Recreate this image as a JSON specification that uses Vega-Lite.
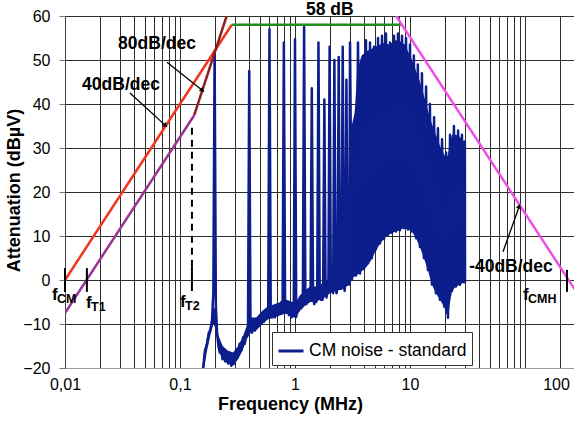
{
  "$schema": "https://vega.github.io/schema/vega-lite/v6.json",
  "width": 509,
  "height": 352,
  "autosize": {"type": "none"},
  "padding": {"left": 65, "top": 16, "right": 0, "bottom": 53},
  "background": "white",
  "config": {
    "font": "Liberation Sans",
    "view": {"stroke": "#9a9a9a", "strokeWidth": 1},
    "axis": {
      "labelFont": "Liberation Sans",
      "labelFontSize": 16,
      "labelColor": "#000",
      "titleFont": "Liberation Sans",
      "titleFontSize": 18,
      "titleFontWeight": "bold",
      "titleColor": "#000",
      "gridColor": "#2e2e2e",
      "gridOpacity": 1,
      "gridWidth": 1
    }
  },
  "datasets": {
    "noiseband": [
      {"f": 0.160, "lo": -21, "hi": -17}, {"f": 0.172, "lo": -16, "hi": -13}, {"f": 0.184, "lo": -12.5, "hi": -10},
      {"f": 0.195, "lo": -10, "hi": -6}, {"f": 0.205, "lo": -11, "hi": -7}, {"f": 0.215, "lo": -16, "hi": -12.5},
      {"f": 0.235, "lo": -18, "hi": -15}, {"f": 0.26, "lo": -19, "hi": -16}, {"f": 0.29, "lo": -19.5, "hi": -16.5},
      {"f": 0.32, "lo": -18, "hi": -15}, {"f": 0.35, "lo": -16, "hi": -13}, {"f": 0.38, "lo": -13.5, "hi": -10.5},
      {"f": 0.41, "lo": -12, "hi": -8.5}, {"f": 0.46, "lo": -11.5, "hi": -8.5}, {"f": 0.52, "lo": -10, "hi": -7},
      {"f": 0.58, "lo": -9, "hi": -6}, {"f": 0.66, "lo": -8.5, "hi": -5.5}, {"f": 0.75, "lo": -8, "hi": -5},
      {"f": 0.85, "lo": -7.5, "hi": -4.5}, {"f": 0.95, "lo": -8.5, "hi": -5}, {"f": 1.02, "lo": -8.5, "hi": -5},
      {"f": 1.1, "lo": -7, "hi": -3.5}, {"f": 1.2, "lo": -6, "hi": -2.5}, {"f": 1.35, "lo": -5, "hi": -1.5},
      {"f": 1.5, "lo": -5, "hi": -1.5}, {"f": 1.65, "lo": -4.5, "hi": -1}, {"f": 1.8, "lo": -4, "hi": -0.5},
      {"f": 2.0, "lo": -3, "hi": 0.5}, {"f": 2.3, "lo": -2.5, "hi": 1}, {"f": 2.6, "lo": -2, "hi": 1.5},
      {"f": 2.98, "lo": -1, "hi": 2.5},
      {"f": 3.0, "lo": 0, "hi": 33}, {"f": 3.3, "lo": 0.8, "hi": 38}, {"f": 3.5, "lo": 1.2, "hi": 48},
      {"f": 3.8, "lo": 2, "hi": 51}, {"f": 4.2, "lo": 3, "hi": 52}, {"f": 4.6, "lo": 4.5, "hi": 52.5},
      {"f": 5.0, "lo": 6.5, "hi": 53}, {"f": 5.5, "lo": 8.3, "hi": 53.5}, {"f": 6.0, "lo": 9.5, "hi": 54},
      {"f": 6.5, "lo": 10.3, "hi": 53.5}, {"f": 7.0, "lo": 10.7, "hi": 54}, {"f": 7.5, "lo": 11, "hi": 54.5},
      {"f": 8.0, "lo": 11.2, "hi": 54.5}, {"f": 8.5, "lo": 11.6, "hi": 54}, {"f": 9.0, "lo": 11.7, "hi": 53.5},
      {"f": 9.6, "lo": 11.5, "hi": 52}, {"f": 10.4, "lo": 11, "hi": 50}, {"f": 11.3, "lo": 9.5, "hi": 47.5},
      {"f": 12.2, "lo": 7.5, "hi": 45}, {"f": 13.2, "lo": 5, "hi": 42}, {"f": 14.3, "lo": 2.3, "hi": 38.5},
      {"f": 15.5, "lo": -1, "hi": 35.5}, {"f": 16.8, "lo": -3, "hi": 33}, {"f": 18.2, "lo": -4.5, "hi": 30.5},
      {"f": 19.8, "lo": -6, "hi": 28.5}, {"f": 20.6, "lo": -7.5, "hi": 27.5}, {"f": 21.4, "lo": -8.6, "hi": 28.5},
      {"f": 22.3, "lo": -5, "hi": 31.5}, {"f": 23.2, "lo": -2.5, "hi": 33}, {"f": 25.1, "lo": -1.5, "hi": 33},
      {"f": 27.2, "lo": -1.1, "hi": 32.5}, {"f": 29.5, "lo": -0.5, "hi": 31.5}, {"f": 30.05, "lo": -0.5, "hi": 31}
    ],
    "spectrum": [
      {"f": 0.150, "db": -26}, {"f": 0.158, "db": -20.5}, {"f": 0.165, "db": -16}, {"f": 0.172, "db": -14.5},
      {"f": 0.178, "db": -12}, {"f": 0.184, "db": -11.5}, {"f": 0.190, "db": -9}, {"f": 0.195, "db": -3},
      {"f": 0.200, "db": 52}, {"f": 0.205, "db": -6}, {"f": 0.210, "db": -12}, {"f": 0.216, "db": -15},
      {"f": 0.222, "db": -16.5}, {"f": 0.228, "db": -15}, {"f": 0.234, "db": -18}, {"f": 0.240, "db": -16},
      {"f": 0.247, "db": -18.5}, {"f": 0.254, "db": -16.5}, {"f": 0.262, "db": -19}, {"f": 0.270, "db": -17},
      {"f": 0.279, "db": -19.5}, {"f": 0.288, "db": -17.5}, {"f": 0.297, "db": -19}, {"f": 0.307, "db": -16.5},
      {"f": 0.318, "db": -17.5}, {"f": 0.330, "db": -14.5}, {"f": 0.342, "db": -16}, {"f": 0.354, "db": -13},
      {"f": 0.366, "db": -14.5}, {"f": 0.378, "db": -11.5}, {"f": 0.390, "db": -12.5}, {"f": 0.400, "db": 47.5},
      {"f": 0.410, "db": -9.5}, {"f": 0.422, "db": -12}, {"f": 0.435, "db": -10}, {"f": 0.448, "db": -11.5},
      {"f": 0.462, "db": -9}, {"f": 0.476, "db": -10.5}, {"f": 0.490, "db": -8.5}, {"f": 0.505, "db": -10},
      {"f": 0.520, "db": -7.5}, {"f": 0.536, "db": -9.5}, {"f": 0.552, "db": -7}, {"f": 0.568, "db": -8.5},
      {"f": 0.585, "db": -6}, {"f": 0.600, "db": 57}, {"f": 0.615, "db": -6.5}, {"f": 0.632, "db": -8.5},
      {"f": 0.650, "db": -6}, {"f": 0.668, "db": -8.5}, {"f": 0.687, "db": -6.5}, {"f": 0.706, "db": -8},
      {"f": 0.725, "db": -5.5}, {"f": 0.745, "db": -7.5}, {"f": 0.762, "db": -5}, {"f": 0.780, "db": -6.5},
      {"f": 0.800, "db": 54}, {"f": 0.820, "db": -5}, {"f": 0.842, "db": -7.5}, {"f": 0.864, "db": -5.5},
      {"f": 0.886, "db": -8}, {"f": 0.908, "db": -6}, {"f": 0.930, "db": -8.5}, {"f": 0.952, "db": -6.5},
      {"f": 0.975, "db": -8}, {"f": 1.000, "db": 54.7}, {"f": 1.025, "db": -8.4}, {"f": 1.050, "db": -5},
      {"f": 1.076, "db": -7}, {"f": 1.102, "db": -4.5}, {"f": 1.128, "db": -6.5}, {"f": 1.150, "db": -4},
      {"f": 1.170, "db": -6}, {"f": 1.200, "db": 57.5}, {"f": 1.230, "db": -3}, {"f": 1.256, "db": -5.5},
      {"f": 1.282, "db": -2.5}, {"f": 1.310, "db": -5}, {"f": 1.338, "db": -2.5}, {"f": 1.365, "db": -4.5},
      {"f": 1.400, "db": 43.6}, {"f": 1.435, "db": -3}, {"f": 1.468, "db": -5.5}, {"f": 1.500, "db": -3},
      {"f": 1.530, "db": -5}, {"f": 1.560, "db": -3.5}, {"f": 1.600, "db": 54}, {"f": 1.640, "db": -2},
      {"f": 1.675, "db": -4.5}, {"f": 1.710, "db": -2.5}, {"f": 1.735, "db": -4.5}, {"f": 1.755, "db": -3.5},
      {"f": 1.800, "db": 41}, {"f": 1.845, "db": -2.5}, {"f": 1.880, "db": -4}, {"f": 1.915, "db": -1.5},
      {"f": 1.950, "db": -3}, {"f": 2.000, "db": 53}, {"f": 2.050, "db": -2.5}, {"f": 2.100, "db": -0.5},
      {"f": 2.145, "db": -3}, {"f": 2.200, "db": 50}, {"f": 2.255, "db": -1.5}, {"f": 2.300, "db": -3},
      {"f": 2.340, "db": -1}, {"f": 2.400, "db": 50.7}, {"f": 2.460, "db": -2}, {"f": 2.500, "db": -0.5},
      {"f": 2.535, "db": -2}, {"f": 2.600, "db": 53}, {"f": 2.665, "db": -1}, {"f": 2.700, "db": -2.5},
      {"f": 2.730, "db": -1}, {"f": 2.800, "db": 45.5}, {"f": 2.870, "db": -1}, {"f": 2.930, "db": 0.5},
      {"f": 2.965, "db": -1},
      {"f": 3.01, "db": 54}, {"f": 3.13, "db": 0}, {"f": 3.26, "db": 36}, {"f": 3.39, "db": 1},
      {"f": 3.53, "db": 54}, {"f": 3.68, "db": 1.5}, {"f": 3.83, "db": 50}, {"f": 3.98, "db": 2.5},
      {"f": 4.14, "db": 54.5}, {"f": 4.31, "db": 3.8}, {"f": 4.49, "db": 54}, {"f": 4.67, "db": 5},
      {"f": 4.86, "db": 53}, {"f": 5.06, "db": 7}, {"f": 5.27, "db": 55}, {"f": 5.48, "db": 8.3},
      {"f": 5.71, "db": 55.5}, {"f": 5.94, "db": 9.3}, {"f": 6.18, "db": 56}, {"f": 6.44, "db": 10.3},
      {"f": 6.70, "db": 54}, {"f": 6.97, "db": 10.7}, {"f": 7.26, "db": 55.5}, {"f": 7.55, "db": 11},
      {"f": 7.86, "db": 56}, {"f": 8.18, "db": 11.3}, {"f": 8.52, "db": 55.5}, {"f": 8.87, "db": 11.8},
      {"f": 9.23, "db": 55}, {"f": 9.61, "db": 11.5}, {"f": 10.0, "db": 53.5}, {"f": 10.4, "db": 11},
      {"f": 10.8, "db": 51}, {"f": 11.3, "db": 9.5}, {"f": 11.7, "db": 49}, {"f": 12.2, "db": 7.5},
      {"f": 12.7, "db": 47}, {"f": 13.2, "db": 5}, {"f": 13.8, "db": 44}, {"f": 14.3, "db": 2.3},
      {"f": 14.9, "db": 40}, {"f": 15.5, "db": -1}, {"f": 16.2, "db": 37}, {"f": 16.8, "db": -3},
      {"f": 17.5, "db": 34.5}, {"f": 18.2, "db": -4.5}, {"f": 19.0, "db": 32}, {"f": 19.8, "db": -6},
      {"f": 20.6, "db": 29}, {"f": 21.4, "db": -8.6}, {"f": 22.3, "db": 33}, {"f": 23.2, "db": -2.5},
      {"f": 24.1, "db": 35}, {"f": 25.1, "db": -1.5}, {"f": 26.2, "db": 34}, {"f": 27.2, "db": -1.1},
      {"f": 28.3, "db": 33}, {"f": 29.5, "db": -0.5}, {"f": 30.0, "db": 31.5}, {"f": 30.1, "db": -0.5}
    ],
    "asymptotes": [
      {"seg": "40 dB/dec", "f": 0.01, "db": 0},
      {"seg": "40 dB/dec", "f": 0.2818, "db": 58},
      {"seg": "plateau", "f": 0.2818, "db": 58},
      {"seg": "plateau", "f": 8.5, "db": 58},
      {"seg": "-40 dB/dec", "f": 7.58, "db": 60},
      {"seg": "-40 dB/dec", "f": 300, "db": -3.9},
      {"seg": "40 dB/dec low", "f": 0.01, "db": -7.5},
      {"seg": "40 dB/dec low", "f": 0.133, "db": 37.45},
      {"seg": "80 dB/dec", "f": 0.133, "db": 37.45},
      {"seg": "80 dB/dec", "f": 0.2544, "db": 60}
    ],
    "corners": [
      {"f": 0.01, "lo": -2.7, "hi": 2.7},
      {"f": 0.0155, "lo": -2.7, "hi": 2.7},
      {"f": 0.127, "lo": -2.5, "hi": 3},
      {"f": 232, "lo": -2.7, "hi": 2.3}
    ],
    "ft2": [
      {"f": 0.127, "lo": 3, "hi": 35}
    ],
    "arrows": [
      {"id": "a1", "f1": 0.0367, "d1": 42.5, "f2": 0.0741, "d2": 35.2},
      {"id": "a2", "f1": 0.0771, "d1": 49.5, "f2": 0.155, "d2": 43.2},
      {"id": "a3", "f1": 64.4, "d1": 6.4, "f2": 88.7, "d2": 16.6}
    ],
    "notes": [
      {"t": "40dB/dec", "f": 0.0307, "db": 44.3},
      {"t": "80dB/dec", "f": 0.0631, "db": 53.6},
      {"t": "58 dB", "f": 2.01, "db": 61.36},
      {"t": "-40dB/dec", "f": 75.5, "db": 2.95}
    ],
    "freqs": [
      {"sub": "CM", "f": 0.0077, "db": -4.55},
      {"sub": "T1", "f": 0.01524, "db": -6.36},
      {"sub": "T2", "f": 0.1, "db": -6.14},
      {"sub": "CMH", "f": 96.2, "db": -4.55}
    ]
  },
  "layer": [
    {
      "data": {"name": "noiseband"},
      "mark": {"type": "area", "color": "#0c1d8c", "opacity": 1, "clip": true},
      "encoding": {
        "x": {"field": "f", "type": "quantitative", "scale": {"type": "log", "domain": [0.01, 266.8], "nice": false}},
        "y": {"field": "lo", "type": "quantitative", "scale": {"domain": [-20, 60], "nice": false}},
        "y2": {"field": "hi"}
      }
    },
    {
      "data": {"name": "spectrum"},
      "mark": {"type": "line", "strokeWidth": 2.5, "strokeJoin": "round", "clip": true},
      "encoding": {
        "x": {
          "field": "f", "type": "quantitative",
          "scale": {"type": "log", "domain": [0.01, 266.8], "nice": false},
          "axis": {
            "title": "Frequency (MHz)",
            "titleX": 225, "titleY": 41, "titleBaseline": "alphabetic", "titleAlign": "center",
            "values": [0.01, 0.02, 0.03, 0.04, 0.05, 0.06, 0.07, 0.08, 0.09, 0.1, 0.2, 0.3, 0.4, 0.5, 0.6, 0.7, 0.8, 0.9, 1, 2, 3, 4, 5, 6, 7, 8, 9, 10, 20, 30, 40, 50, 60, 70, 80, 90, 100, 200],
            "labelExpr": "datum.value == 0.01 || datum.value == 0.1 || datum.value == 1 || datum.value == 10 || datum.value == 100 ? replace(datum.value + '', '.', ',') : ''",
            "labelOverlap": false,
            "labelFlush": false,
            "labelPadding": 8,
            "labelOffset": {"condition": {"test": "datum.value == 100", "value": 31}, "value": 0},
            "ticks": false,
            "grid": true,
            "domainColor": "#9a9a9a"
          }
        },
        "y": {
          "field": "db", "type": "quantitative",
          "scale": {"domain": [-20, 60], "nice": false},
          "axis": {
            "title": "Attenuation (dBµV)",
            "titleX": -51, "titleY": 174, "titleAngle": -90, "titleAlign": "center", "titleBaseline": "middle",
            "values": [-20, -10, 0, 10, 20, 30, 40, 50, 60],
            "tickSize": 6,
            "tickColor": "#777",
            "labelPadding": 9,
            "grid": true,
            "domainColor": "#444"
          }
        },
        "color": {
          "datum": "CM noise - standard",
          "scale": {"range": ["#0c1d8c"]},
          "legend": {
            "title": null,
            "orient": "none",
            "legendX": 207,
            "legendY": 316,
            "symbolType": "stroke",
            "symbolSize": 625,
            "symbolStrokeWidth": 3,
            "labelFont": "Liberation Sans",
            "labelFontSize": 17.5,
            "labelColor": "#000",
            "labelLimit": 400,
            "labelOffset": 4,
            "padding": 5,
            "strokeColor": "#333",
            "fillColor": "#fff",
            "cornerRadius": 0
          }
        }
      }
    },
    {
      "data": {"name": "asymptotes"},
      "mark": {"type": "line", "strokeWidth": 2.5, "clip": true},
      "encoding": {
        "x": {"field": "f", "type": "quantitative", "scale": {"type": "log", "domain": [0.01, 266.8], "nice": false}},
        "y": {"field": "db", "type": "quantitative", "scale": {"domain": [-20, 60], "nice": false}},
        "color": {
          "field": "seg", "type": "nominal",
          "scale": {
            "domain": ["40 dB/dec", "40 dB/dec low", "80 dB/dec", "plateau", "-40 dB/dec"],
            "range": ["#f2341d", "#993399", "#8e1f1f", "#1f8f1f", "#ee4fe6"]
          },
          "legend": null
        }
      }
    },
    {
      "data": {"name": "ft2"},
      "mark": {"type": "rule", "color": "#000", "strokeWidth": 2, "strokeDash": [7, 5]},
      "encoding": {
        "x": {"field": "f", "type": "quantitative", "scale": {"type": "log", "domain": [0.01, 266.8], "nice": false}},
        "y": {"field": "lo", "type": "quantitative", "scale": {"domain": [-20, 60], "nice": false}},
        "y2": {"field": "hi"}
      }
    },
    {
      "data": {"name": "corners"},
      "mark": {"type": "rule", "color": "#000", "strokeWidth": 2},
      "encoding": {
        "x": {"field": "f", "type": "quantitative", "scale": {"type": "log", "domain": [0.01, 266.8], "nice": false}},
        "y": {"field": "lo", "type": "quantitative", "scale": {"domain": [-20, 60], "nice": false}},
        "y2": {"field": "hi"}
      }
    },
    {
      "data": {"name": "arrows"},
      "mark": {"type": "rule", "color": "#000", "strokeWidth": 1.3},
      "encoding": {
        "x": {"field": "f1", "type": "quantitative", "scale": {"type": "log", "domain": [0.01, 266.8], "nice": false}},
        "y": {"field": "d1", "type": "quantitative", "scale": {"domain": [-20, 60], "nice": false}},
        "x2": {"field": "f2"},
        "y2": {"field": "d2"}
      }
    },
    {
      "data": {"name": "arrows"},
      "transform": [{"filter": "datum.id != 'a3'"}],
      "mark": {"type": "point", "shape": "triangle", "filled": true, "color": "#000", "size": 30, "angle": 129, "opacity": 1},
      "encoding": {
        "x": {"field": "f2", "type": "quantitative", "scale": {"type": "log", "domain": [0.01, 266.8], "nice": false}},
        "y": {"field": "d2", "type": "quantitative", "scale": {"domain": [-20, 60], "nice": false}}
      }
    },
    {
      "data": {"name": "arrows"},
      "transform": [{"filter": "datum.id == 'a3'"}],
      "mark": {"type": "point", "shape": "triangle", "filled": true, "color": "#000", "size": 30, "angle": 20, "opacity": 1},
      "encoding": {
        "x": {"field": "f2", "type": "quantitative", "scale": {"type": "log", "domain": [0.01, 266.8], "nice": false}},
        "y": {"field": "d2", "type": "quantitative", "scale": {"domain": [-20, 60], "nice": false}}
      }
    },
    {
      "data": {"name": "notes"},
      "mark": {"type": "text", "font": "Liberation Sans", "fontSize": 17.5, "fontWeight": "bold", "color": "#000", "align": "center", "baseline": "middle"},
      "encoding": {
        "x": {"field": "f", "type": "quantitative", "scale": {"type": "log", "domain": [0.01, 266.8], "nice": false}},
        "y": {"field": "db", "type": "quantitative", "scale": {"domain": [-20, 60], "nice": false}},
        "text": {"field": "t"}
      }
    },
    {
      "data": {"name": "freqs"},
      "mark": {"type": "text", "font": "Liberation Sans", "fontSize": 17, "fontWeight": "bold", "color": "#000", "align": "left", "baseline": "alphabetic"},
      "encoding": {
        "x": {"field": "f", "type": "quantitative", "scale": {"type": "log", "domain": [0.01, 266.8], "nice": false}},
        "y": {"field": "db", "type": "quantitative", "scale": {"domain": [-20, 60], "nice": false}},
        "text": {"value": "f"}
      }
    },
    {
      "data": {"name": "freqs"},
      "mark": {"type": "text", "font": "Liberation Sans", "fontSize": 12.5, "fontWeight": "bold", "color": "#000", "align": "left", "baseline": "alphabetic", "dx": 5, "dy": 3},
      "encoding": {
        "x": {"field": "f", "type": "quantitative", "scale": {"type": "log", "domain": [0.01, 266.8], "nice": false}},
        "y": {"field": "db", "type": "quantitative", "scale": {"domain": [-20, 60], "nice": false}},
        "text": {"field": "sub"}
      }
    }
  ],
  "resolve": {"scale": {"color": "independent"}}
}
